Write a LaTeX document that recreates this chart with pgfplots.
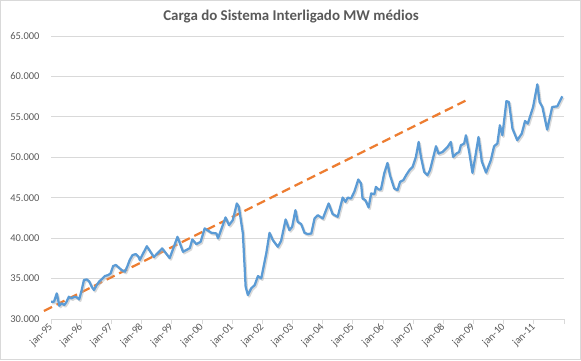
\documentclass[border=0pt]{standalone}
\usepackage{fontspec}
\setmainfont{Carlito}
\usepackage{pgfplots}
\pgfplotsset{compat=1.18}
\definecolor{txt}{HTML}{595959}
\definecolor{grd}{HTML}{D9D9D9}
\definecolor{blu}{HTML}{5B9BD5}
\definecolor{org}{HTML}{ED7D31}
\pgfplotstableread{
m v
0 32140
1.2 32140
2.3 33170
3.3 31640
4.2 31940
5.3 31730
6.2 32140
7.1 32750
8.2 32550
9.2 32750
10.2 32700
11.2 32420
12.2 33580
13.1 34820
14.2 34900
15.2 34650
16.2 33990
17.1 33580
18.1 34160
19.2 34650
20.1 34900
21.4 35310
22.7 35430
23.7 35640
24.7 36550
25.8 36680
26.9 36380
28.1 36050
29.4 35850
30.3 36470
31.3 37290
32.4 37900
33.7 38030
34.8 37700
35.3 37290
38.1 39000
40.9 37660
44.2 38730
47.2 37530
50.3 40160
52.5 38310
55.2 38770
56.2 39840
57.8 39260
59.5 39550
61.1 41200
63.8 40660
65.8 40580
66.4 39970
67.7 41080
69.4 42560
70.8 41610
72.3 42230
73.9 44290
74.7 43870
76.3 40580
77.4 33990
78.3 32960
79.6 33790
81.0 34200
82.3 35310
83.6 35030
85.6 38110
86.9 40660
88.2 39760
90.2 38930
91.5 39660
93.3 42310
94.8 40990
95.9 41400
97.2 43460
98.1 42020
99.5 41730
100.8 40660
102.1 40500
103.5 40580
104.8 42430
106.1 42840
108.1 42430
110.4 44290
112.0 42970
114.0 42640
116.0 45020
117.1 44490
118.0 45020
119.3 44900
120.6 45720
122.2 47250
123.3 46760
123.9 44900
125.0 44700
126.3 43800
127.3 45520
128.6 45440
129.2 46340
130.3 46020
131.2 46020
132.5 48000
133.8 49300
134.8 47780
136.5 46140
137.8 45930
138.8 46960
140.1 47170
141.2 47780
142.5 48400
143.8 48810
145.1 50040
146.2 51900
147.1 50040
148.4 48190
149.7 47780
150.7 48400
151.7 49640
153.1 51370
154.1 50460
155.7 50660
157.7 51280
159.0 51900
159.9 50040
161.2 50460
162.3 50660
163.0 51490
164.3 51700
165.0 52720
166.3 50660
167.6 48070
168.7 50040
170.0 52510
171.3 49500
173.0 48100
174.9 49640
176.2 51370
177.5 51700
178.5 53960
179.5 52720
181.1 56950
182.1 56830
183.5 53550
185.4 52110
187.2 52930
188.5 54480
189.6 54160
191.7 56220
193.4 59020
194.3 56830
195.4 56220
197.3 53420
199.3 56220
201.3 56300
203.3 57540
}\carga
\begin{document}
\begin{tikzpicture}[x=1bp,y=1bp]
\useasboundingbox (-51,-41) rectangle (530,319);
\draw[grd, line width=0.75bp] (-50.6,-40.6) rectangle (529.6,318.6);
\node[txt, font=\fontsize{15}{17}\selectfont\bfseries] at (240,302) {Carga do Sistema Interligado MW médios};
\begin{axis}[at={(0,0)}, anchor=south west, scale only axis,
  width=513bp, height=283bp,
  xmin=0, xmax=204, ymin=30000, ymax=65000,
  clip=false, scaled y ticks=false,
  axis x line*=bottom, axis y line*=left,
  y axis line style={draw=none},
  x axis line style={grd, line width=0.75bp},
  xtick={0,12,...,204},
  xticklabels={jan-95,jan-96,jan-97,jan-98,jan-99,jan-00,jan-01,jan-02,jan-03,jan-04,jan-05,jan-06,jan-07,jan-08,jan-09,jan-10,jan-11,{}},
  xtick style={grd, line width=0.75bp},
  major tick length=5bp, tick align=outside,
  ytick={30000,35000,...,65000},
  yticklabels={30.000,35.000,40.000,45.000,50.000,55.000,60.000,65.000},
  ytick style={draw=none},
  ymajorgrids, grid style={grd, line width=0.75bp},
  tick label style={txt, font=\fontsize{10.5}{12}\selectfont},
  xticklabel style={rotate=45, anchor=east, yshift=-1bp, inner sep=1pt},
  yticklabel style={xshift=-3bp},
]
\addplot[org, line width=2.25bp, dash pattern=on 9bp off 5bp] coordinates {(-2.8,31000) (164.8,57000)};
\addplot[black!30, opacity=0.5, line width=2.25bp, line join=round, xshift=1.2bp, yshift=-1.5bp] table[x=m,y=v] {\carga};
\addplot[blu, line width=2.25bp, line join=round] table[x=m,y=v] {\carga};
\end{axis}
\end{tikzpicture}
\end{document}
